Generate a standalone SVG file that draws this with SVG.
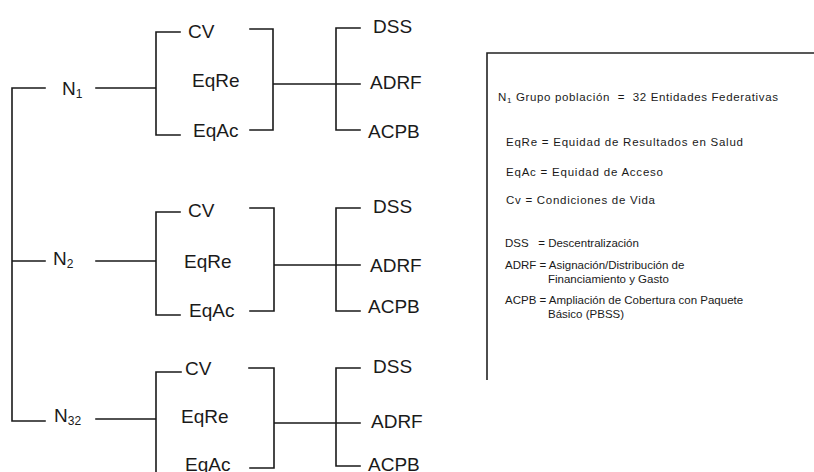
<svg xmlns="http://www.w3.org/2000/svg" width="814" height="472" viewBox="0 0 814 472">
  <style>
    .ln { stroke: #1a1a1a; stroke-width: 1.6; fill: none; stroke-linecap: square; }
    .lbl { font-family: "Liberation Sans", Arial, sans-serif; font-size: 19px; fill: #1a1a1a; }
    .sub { font-size: 12px; }
    .leg { font-family: "Liberation Sans", Arial, sans-serif; font-size: 11.5px; fill: #1a1a1a; }
    .box { stroke: #222; stroke-width: 1.6; fill: none; }
  </style>
  <rect width="814" height="472" fill="#ffffff"/>

  <!-- connectors -->
  <g id="connectors" class="ln">
    <!-- root spine -->
    <path d="M12,88 V421 M12,88 H45 M12,261 H45 M12,421 H45"/>
    <!-- group N1 -->
    <path d="M96,88 H156 M180,32 H156 V135 H180"/>
    <path d="M250,29 H273 V130 H250 M273,84 H360 M360,28 H336 V130 H360"/>
    <!-- group N2 -->
    <path d="M96,261 H156 M180,212 H156 V315 H180"/>
    <path d="M250,208 H274 V311 H250 M274,265 H360 M360,208 H336 V311 H360"/>
    <!-- group N32 -->
    <path d="M96,419 H156 M181,372 H156 V472"/>
    <path d="M249,368 H274 V468 H250 M274,423 H360 M360,368 H336 V466 H360"/>
  </g>

  <!-- level nodes -->
  <g id="n1"><text class="lbl" x="62" y="95">N<tspan class="sub" dy="3">1</tspan></text></g>
  <g id="n2"><text class="lbl" x="53" y="265">N<tspan class="sub" dy="3">2</tspan></text></g>
  <g id="n32"><text class="lbl" x="54" y="422">N<tspan class="sub" dy="3">32</tspan></text></g>

  <!-- indicator nodes, group N1 -->
  <g id="n1-cv"><text class="lbl" x="188" y="38">CV</text></g>
  <g id="n1-eqre"><text class="lbl" x="192" y="87">EqRe</text></g>
  <g id="n1-eqac"><text class="lbl" x="193" y="137">EqAc</text></g>
  <g id="n1-dss"><text class="lbl" x="373" y="33">DSS</text></g>
  <g id="n1-adrf"><text class="lbl" x="370" y="89">ADRF</text></g>
  <g id="n1-acpb"><text class="lbl" x="368" y="138">ACPB</text></g>

  <!-- indicator nodes, group N2 -->
  <g id="n2-cv"><text class="lbl" x="188" y="217">CV</text></g>
  <g id="n2-eqre"><text class="lbl" x="184" y="268">EqRe</text></g>
  <g id="n2-eqac"><text class="lbl" x="189" y="317">EqAc</text></g>
  <g id="n2-dss"><text class="lbl" x="373" y="213">DSS</text></g>
  <g id="n2-adrf"><text class="lbl" x="370" y="272">ADRF</text></g>
  <g id="n2-acpb"><text class="lbl" x="368" y="313">ACPB</text></g>

  <!-- indicator nodes, group N32 -->
  <g id="n32-cv"><text class="lbl" x="185" y="375">CV</text></g>
  <g id="n32-eqre"><text class="lbl" x="181" y="423">EqRe</text></g>
  <g id="n32-eqac"><text class="lbl" x="185" y="471">EqAc</text></g>
  <g id="n32-dss"><text class="lbl" x="373" y="373">DSS</text></g>
  <g id="n32-adrf"><text class="lbl" x="371" y="428">ADRF</text></g>
  <g id="n32-acpb"><text class="lbl" x="368" y="471">ACPB</text></g>

  <!-- legend -->
  <g id="legend">
    <path class="box" d="M487,380 V53 H814"/>
    <text class="leg" x="498" y="101" textLength="280" lengthAdjust="spacing">N<tspan font-size="8" dy="2">1</tspan><tspan dy="-2"> Grupo población&#160; =&#160; 32 Entidades Federativas</tspan></text>
    <text class="leg" x="506" y="146" textLength="237" lengthAdjust="spacing">EqRe = Equidad de Resultados en Salud</text>
    <text class="leg" x="506" y="176" textLength="157" lengthAdjust="spacing">EqAc = Equidad de Acceso</text>
    <text class="leg" x="506" y="204" textLength="149" lengthAdjust="spacing">Cv = Condiciones de Vida</text>
    <text class="leg" x="505" y="247">DSS&#160;&#160; = Descentralización</text>
    <text class="leg" x="505" y="269">ADRF = Asignación/Distribución de</text>
    <text class="leg" x="548" y="283">Financiamiento y Gasto</text>
    <text class="leg" x="505" y="304">ACPB = Ampliación de Cobertura con Paquete</text>
    <text class="leg" x="548" y="318">Básico (PBSS)</text>
  </g>
</svg>
